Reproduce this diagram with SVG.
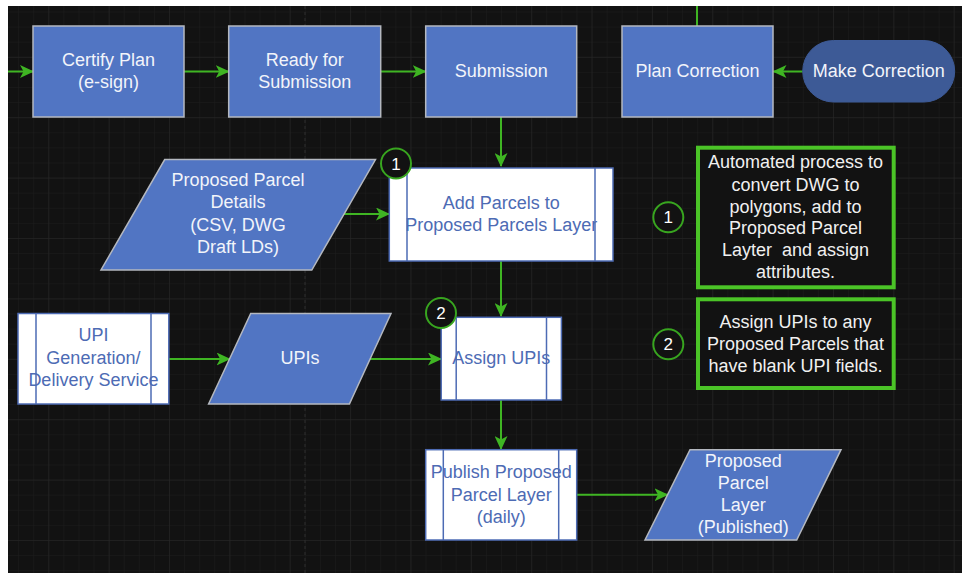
<svg xmlns="http://www.w3.org/2000/svg" width="963" height="573" viewBox="0 0 963 573">
  <defs>
    <pattern id="minor" x="-12.06" y="-3.6" width="15.09" height="15.1" patternUnits="userSpaceOnUse">
      <path d="M0 0V15.1M0 0H15.09" fill="none" stroke="#1d1d1d" stroke-width="1"/>
    </pattern>
    <pattern id="major" x="-12.06" y="-3.6" width="60.36" height="60.4" patternUnits="userSpaceOnUse">
      <path d="M0 0V60.4M0 0H60.36" fill="none" stroke="#272727" stroke-width="1"/>
    </pattern>
    <marker id="arrow" viewBox="0 0 14 13" refX="13" refY="6.5" markerWidth="14" markerHeight="13" markerUnits="userSpaceOnUse" orient="auto">
      <path d="M0 0L14 6.5L0 13L3.5 6.5Z" fill="#3fb523"/>
    </marker>
  </defs>
  <style>
    text { font-family: "Liberation Sans", Arial, sans-serif; font-size: 18px; text-anchor: middle; }
    .proc { fill: #5175c3; stroke: #b4b8c0; stroke-width: 1.5; }
    .term { fill: #3d5a96; stroke: #3d5a96; stroke-width: 1; }
    .data { fill: #5175c3; stroke: #b4b8c0; stroke-width: 1.5; }
    .sub { fill: #ffffff; stroke: #4d6bb4; stroke-width: 1.5; }
    .sub-line { stroke: #4d6bb4; stroke-width: 1.5; fill: none; }
    .light { fill: #f2f4fa; }
    .dark { fill: #4d6bb4; }
    .note { fill: #121212; stroke: #4bc427; stroke-width: 4; }
    .note-text { fill: #f0f0f0; }
    .badge { fill: #121212; stroke: #38a51f; stroke-width: 2; }
    .badge-text { fill: #ffffff; font-size: 17px; }
    .edge { fill: none; stroke: #3fb523; stroke-width: 2; }
  </style>

  <!-- canvas -->
  <rect x="0" y="0" width="963" height="573" fill="#ffffff"/>
  <rect x="8" y="6" width="954" height="567" fill="#121212"/>
  <rect x="8" y="6" width="954" height="567" fill="url(#minor)"/>
  <rect x="8" y="6" width="954" height="567" fill="url(#major)"/>
  <line x1="305" y1="6" x2="305" y2="573" stroke="#2e2e2e" stroke-width="1" stroke-dasharray="3 3"/>

  <!-- connectors -->
  <g id="connectors">
    <line class="edge" x1="8" y1="71.5" x2="33" y2="71.5" marker-end="url(#arrow)"/>
    <line class="edge" x1="184" y1="71.5" x2="228.7" y2="71.5" marker-end="url(#arrow)"/>
    <line class="edge" x1="380.7" y1="71.5" x2="425.7" y2="71.5" marker-end="url(#arrow)"/>
    <line class="edge" x1="697" y1="6" x2="697" y2="26"/>
    <line class="edge" x1="802.7" y1="71.5" x2="773.5" y2="71.5" marker-end="url(#arrow)"/>
    <line class="edge" x1="501" y1="117" x2="501" y2="166" marker-end="url(#arrow)"/>
    <line class="edge" x1="343" y1="214" x2="389" y2="214" marker-end="url(#arrow)"/>
    <line class="edge" x1="501" y1="261" x2="501" y2="316" marker-end="url(#arrow)"/>
    <line class="edge" x1="168.8" y1="359" x2="229.6" y2="359" marker-end="url(#arrow)"/>
    <line class="edge" x1="370" y1="359" x2="441" y2="359" marker-end="url(#arrow)"/>
    <line class="edge" x1="501" y1="400" x2="501" y2="449" marker-end="url(#arrow)"/>
    <line class="edge" x1="576.7" y1="494.7" x2="667.5" y2="494.7" marker-end="url(#arrow)"/>
  </g>

  <!-- top row -->
  <g id="certify-plan">
    <rect class="proc" x="33" y="26" width="151" height="91"/>
    <text class="light" x="108.5" y="65.5">Certify Plan</text>
    <text class="light" x="108.5" y="88">(e-sign)</text>
  </g>
  <g id="ready-for-submission">
    <rect class="proc" x="228.7" y="26" width="152" height="91"/>
    <text class="light" x="304.7" y="65.5">Ready for</text>
    <text class="light" x="304.7" y="88">Submission</text>
  </g>
  <g id="submission">
    <rect class="proc" x="425.7" y="26" width="151" height="91"/>
    <text class="light" x="501.2" y="77">Submission</text>
  </g>
  <g id="plan-correction">
    <rect class="proc" x="622" y="26" width="151" height="91"/>
    <text class="light" x="697.5" y="77">Plan Correction</text>
  </g>
  <g id="make-correction">
    <rect class="term" x="802.7" y="40.5" width="152" height="61.5" rx="30.75" ry="30.75"/>
    <text class="light" x="878.7" y="77">Make Correction</text>
  </g>

  <!-- parcel intake -->
  <g id="proposed-parcel-details">
    <polygon class="data" points="164.7,159.6 375.5,159.6 311.8,270 101,270"/>
    <text class="light" x="238" y="185.5">Proposed Parcel</text>
    <text class="light" x="238" y="208">Details</text>
    <text class="light" x="238" y="231">(CSV, DWG</text>
    <text class="light" x="238" y="253">Draft LDs)</text>
  </g>
  <g id="add-parcels">
    <rect class="sub" x="389.3" y="168" width="223.7" height="93"/>
    <line class="sub-line" x1="407" y1="168" x2="407" y2="261"/>
    <line class="sub-line" x1="595" y1="168" x2="595" y2="261"/>
    <text class="dark" x="501.2" y="208.5">Add Parcels to</text>
    <text class="dark" x="501.2" y="230.5">Proposed Parcels Layer</text>
  </g>
  <g id="badge-add-parcels">
    <circle class="badge" cx="396" cy="163.5" r="15"/>
    <text class="badge-text" x="396" y="169.5">1</text>
  </g>

  <!-- UPI row -->
  <g id="upi-service">
    <rect class="sub" x="18" y="313.5" width="150.8" height="90.5"/>
    <line class="sub-line" x1="36" y1="313.5" x2="36" y2="404"/>
    <line class="sub-line" x1="151" y1="313.5" x2="151" y2="404"/>
    <text class="dark" x="93.4" y="341">UPI</text>
    <text class="dark" x="93.4" y="363.5">Generation/</text>
    <text class="dark" x="93.4" y="385.5">Delivery Service</text>
  </g>
  <g id="upis">
    <polygon class="data" points="250.7,313.5 391,313.5 349.4,404 208.6,404"/>
    <text class="light" x="300" y="364">UPIs</text>
  </g>
  <g id="assign-upis">
    <rect class="sub" x="441.2" y="317.3" width="120.2" height="82.7"/>
    <line class="sub-line" x1="456.2" y1="317.3" x2="456.2" y2="400"/>
    <line class="sub-line" x1="546.5" y1="317.3" x2="546.5" y2="400"/>
    <text class="dark" x="501.3" y="364">Assign UPIs</text>
  </g>
  <g id="badge-assign-upis">
    <circle class="badge" cx="441" cy="313" r="15"/>
    <text class="badge-text" x="441" y="319">2</text>
  </g>

  <!-- publishing -->
  <g id="publish-layer">
    <rect class="sub" x="425.7" y="449.7" width="151" height="90.3"/>
    <line class="sub-line" x1="443.3" y1="449.7" x2="443.3" y2="540"/>
    <line class="sub-line" x1="558.7" y1="449.7" x2="558.7" y2="540"/>
    <text class="dark" x="501.2" y="477.5">Publish Proposed</text>
    <text class="dark" x="501.2" y="500.5">Parcel Layer</text>
    <text class="dark" x="501.2" y="523">(daily)</text>
  </g>
  <g id="published-layer">
    <polygon class="data" points="690,449.7 841,449.7 796.7,540 645,540"/>
    <text class="light" x="743.3" y="467">Proposed</text>
    <text class="light" x="743.3" y="489">Parcel</text>
    <text class="light" x="743.3" y="511">Layer</text>
    <text class="light" x="743.3" y="532.5">(Published)</text>
  </g>

  <!-- notes -->
  <g id="note-1">
    <rect class="note" x="698" y="147.7" width="195.7" height="139.6"/>
    <text class="note-text" x="795.5" y="168">Automated process to</text>
    <text class="note-text" x="795.5" y="190.5">convert DWG to</text>
    <text class="note-text" x="795.5" y="212.5">polygons, add to</text>
    <text class="note-text" x="795.5" y="234">Proposed Parcel</text>
    <text class="note-text" x="795.5" y="256" xml:space="preserve">Layter  and assign</text>
    <text class="note-text" x="795.5" y="277.5">attributes.</text>
  </g>
  <g id="note-badge-1">
    <circle class="badge" cx="668.3" cy="217.3" r="15"/>
    <text class="badge-text" x="668.3" y="223.3">1</text>
  </g>
  <g id="note-2">
    <rect class="note" x="698" y="299.3" width="195.7" height="88.7"/>
    <text class="note-text" x="795.5" y="328">Assign UPIs to any</text>
    <text class="note-text" x="795.5" y="350">Proposed Parcels that</text>
    <text class="note-text" x="795.5" y="371.5">have blank UPI fields.</text>
  </g>
  <g id="note-badge-2">
    <circle class="badge" cx="668.3" cy="344.3" r="15"/>
    <text class="badge-text" x="668.3" y="350.3">2</text>
  </g>
</svg>
